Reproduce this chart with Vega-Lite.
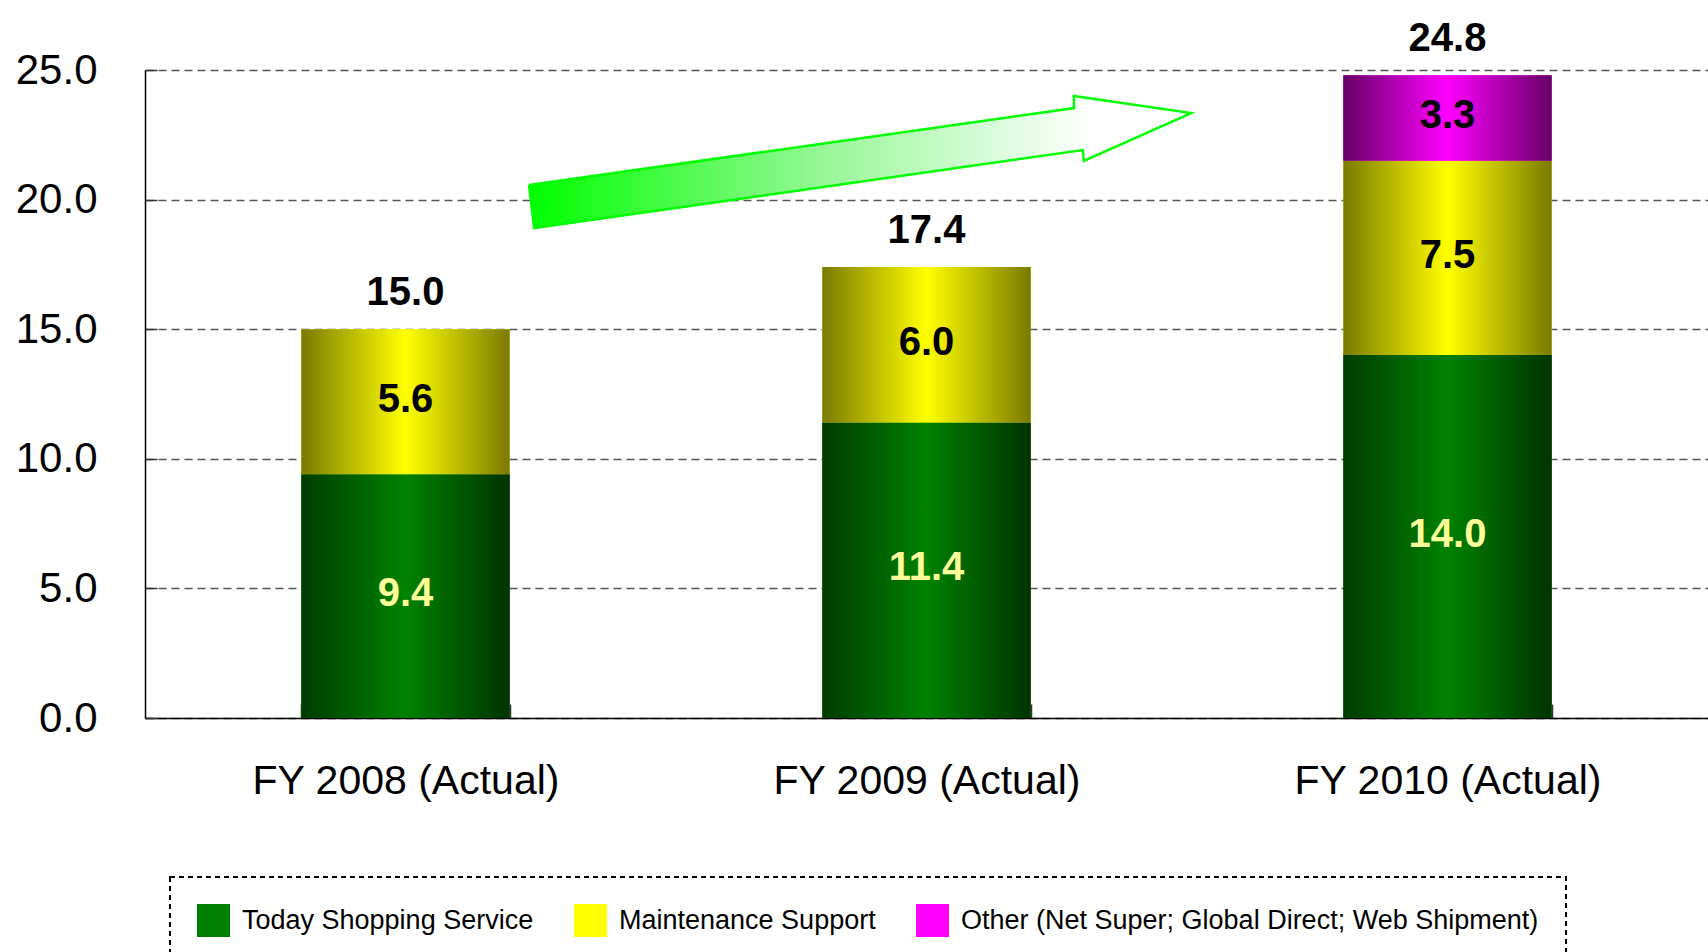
{
  "$schema": "https://vega.github.io/schema/vega-lite/v6.json",
  "width": 1563,
  "height": 648,
  "autosize": {"type": "none"},
  "padding": {"left": 145, "top": 70, "right": 0, "bottom": 234},
  "background": "white",
  "datasets": {
    "sales": [
      {"year": "FY 2008 (Actual)", "segment": "Today Shopping Service", "rank": 1, "value": 9.4},
      {"year": "FY 2008 (Actual)", "segment": "Maintenance Support", "rank": 2, "value": 5.6},
      {"year": "FY 2009 (Actual)", "segment": "Today Shopping Service", "rank": 1, "value": 11.4},
      {"year": "FY 2009 (Actual)", "segment": "Maintenance Support", "rank": 2, "value": 6.0},
      {"year": "FY 2010 (Actual)", "segment": "Today Shopping Service", "rank": 1, "value": 14.0},
      {"year": "FY 2010 (Actual)", "segment": "Maintenance Support", "rank": 2, "value": 7.5},
      {"year": "FY 2010 (Actual)", "segment": "Other (Net Super; Global Direct; Web Shipment)", "rank": 3, "value": 3.3}
    ],
    "arrow": [
      {"ord": 1, "ax": 0.737, "ay": 20.56},
      {"ord": 2, "ax": 1.783, "ay": 23.53},
      {"ord": 3, "ax": 1.783, "ay": 24.0},
      {"ord": 4, "ax": 2.008, "ay": 23.34},
      {"ord": 5, "ax": 1.802, "ay": 21.49},
      {"ord": 6, "ax": 1.8, "ay": 21.91},
      {"ord": 7, "ax": 0.747, "ay": 18.9},
      {"ord": 8, "ax": 0.737, "ay": 20.56}
    ]
  },
  "layer": [
    {
      "data": {"name": "sales"},
      "transform": [
        {"stack": "value", "groupby": ["year"], "sort": [{"field": "rank", "order": "ascending"}], "as": ["v0", "v1"]}
      ],
      "layer": [
        {
          "mark": {"type": "bar"},
          "encoding": {
            "x": {
              "field": "year", "type": "nominal", "sort": null,
              "scale": {"paddingInner": 0.6, "paddingOuter": 0.3},
              "axis": {
                "title": null, "labelAngle": 0, "labelFont": "Liberation Sans", "labelFontSize": 41,
                "labelColor": "black", "labelLimit": 700, "domainColor": "black", "domainWidth": 1.5,
                "tickColor": "#333", "tickWidth": 1.5, "tickSize": -14, "tickBand": "extent",
                "labelPadding": 57, "grid": false
              }
            },
            "y": {
              "field": "v1", "type": "quantitative",
              "scale": {"domain": [0, 25], "nice": false},
              "axis": {
                "title": null, "values": [0, 5, 10, 15, 20, 25], "format": ".1f",
                "labelFont": "Liberation Sans", "labelFontSize": 42, "labelColor": "black",
                "labelPadding": 60, "tickSize": -12, "tickColor": "#333", "tickWidth": 1.5,
                "domainColor": "black", "domainWidth": 1.5,
                "grid": true, "gridColor": "#555", "gridDash": [8, 5], "gridWidth": 1.5
              }
            },
            "y2": {"field": "v0"},
            "color": {
              "field": "segment", "type": "nominal",
              "scale": {
                "domain": ["Today Shopping Service", "Maintenance Support", "Other (Net Super; Global Direct; Web Shipment)"],
                "range": ["#008000", "#ffff00", "#ff00ff"]
              },
              "legend": {
                "orient": "none", "legendX": 25, "legendY": 807, "direction": "horizontal",
                "title": null, "symbolType": "square", "symbolSize": 1089, "symbolStrokeWidth": 0,
                "labelFont": "Liberation Sans", "labelFontSize": 27, "labelColor": "black",
                "labelLimit": 800, "columnPadding": 40, "labelOffset": 12, "padding": 27,
                "strokeColor": "black"
              }
            }
          }
        },
        {
          "transform": [{"filter": "datum.rank == 1"}],
          "mark": {
            "type": "bar",
            "fill": {"gradient": "linear", "x1": 0, "y1": 0, "x2": 1, "y2": 0,
              "stops": [{"offset": 0, "color": "#003c00"}, {"offset": 0.5, "color": "#008200"}, {"offset": 1, "color": "#003300"}]}
          },
          "encoding": {
            "x": {"field": "year", "type": "nominal", "sort": null},
            "y": {"field": "v1", "type": "quantitative"},
            "y2": {"field": "v0"}
          }
        },
        {
          "transform": [{"filter": "datum.rank == 2"}],
          "mark": {
            "type": "bar",
            "fill": {"gradient": "linear", "x1": 0, "y1": 0, "x2": 1, "y2": 0,
              "stops": [{"offset": 0, "color": "#7a7a00"}, {"offset": 0.5, "color": "#ffff00"}, {"offset": 1, "color": "#7a7a00"}]}
          },
          "encoding": {
            "x": {"field": "year", "type": "nominal", "sort": null},
            "y": {"field": "v1", "type": "quantitative"},
            "y2": {"field": "v0"}
          }
        },
        {
          "transform": [{"filter": "datum.rank == 3"}],
          "mark": {
            "type": "bar",
            "fill": {"gradient": "linear", "x1": 0, "y1": 0, "x2": 1, "y2": 0,
              "stops": [{"offset": 0, "color": "#660066"}, {"offset": 0.5, "color": "#ff00ff"}, {"offset": 1, "color": "#660066"}]}
          },
          "encoding": {
            "x": {"field": "year", "type": "nominal", "sort": null},
            "y": {"field": "v1", "type": "quantitative"},
            "y2": {"field": "v0"}
          }
        },
        {
          "transform": [{"calculate": "(datum.v0 + datum.v1) / 2", "as": "mid"}],
          "mark": {"type": "text", "font": "Liberation Sans", "fontSize": 40, "fontWeight": "bold", "baseline": "middle", "dy": -2},
          "encoding": {
            "x": {"field": "year", "type": "nominal", "sort": null},
            "y": {"field": "mid", "type": "quantitative"},
            "text": {"field": "value", "type": "quantitative", "format": ".1f"},
            "color": {"condition": {"test": "datum.rank == 1", "value": "#ffff99"}, "value": "black"}
          }
        },
        {
          "transform": [{"aggregate": [{"op": "sum", "field": "value", "as": "total"}], "groupby": ["year"]}],
          "mark": {"type": "text", "font": "Liberation Sans", "fontSize": 40, "fontWeight": "bold", "baseline": "alphabetic", "dy": -24, "color": "black"},
          "encoding": {
            "x": {"field": "year", "type": "nominal", "sort": null},
            "y": {"field": "total", "type": "quantitative"},
            "text": {"field": "total", "type": "quantitative", "format": ".1f"}
          }
        }
      ]
    },
    {
      "data": {"name": "arrow"},
      "mark": {
        "type": "line", "stroke": "#00ff00", "strokeWidth": 2.5, "strokeJoin": "miter",
        "fill": {"gradient": "linear", "x1": 0, "y1": 0, "x2": 1, "y2": 0,
          "stops": [{"offset": 0, "color": "#00ff00"}, {"offset": 0.45, "color": "#99f799"}, {"offset": 0.85, "color": "#ffffff"}, {"offset": 1, "color": "#ffffff"}]}
      },
      "encoding": {
        "x": {"field": "ax", "type": "quantitative", "scale": {"domain": [0, 3], "nice": false, "zero": false}, "axis": null},
        "y": {"field": "ay", "type": "quantitative"},
        "order": {"field": "ord", "type": "quantitative"}
      }
    }
  ],
  "resolve": {"scale": {"x": "independent"}},
  "config": {
    "view": {"stroke": null},
    "legend": {"strokeDash": [5, 4], "strokeWidth": 2}
  }
}
